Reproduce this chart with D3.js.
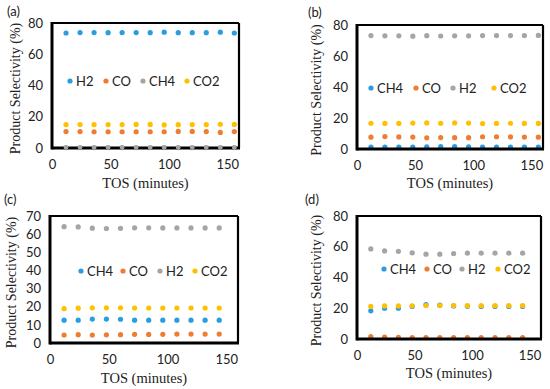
<!DOCTYPE html>
<html><head><meta charset="utf-8">
<script src="https://cdn.jsdelivr.net/npm/d3@7/dist/d3.min.js"></script>
<style>body{margin:0;background:#fff}</style>
</head><body>
<svg id="c" width="550" height="389"></svg>
<script>
// ---- DATA ----
const tosA = [12,24,36,48,60,72,84,96,108,120,132,144,156];
const tosC = [12,24,36,48,60,72,84,96,108,120,132,144];

const aH2  = [73.6,73.9,73.9,73.8,73.9,73.9,73.8,74.1,73.8,73.8,73.8,74.1,73.6];
const aCO  = [10.5,10.5,10.4,10.4,10.4,10.4,10.4,10.4,10.6,10.6,10.5,10.0,10.5];
const aCH4 = [0.3,0.3,0.3,0.3,0.3,0.3,0.3,0.3,0.3,0.3,0.3,0.3,0.3];
const aCO2 = [15.0,15.0,15.0,15.0,15.0,15.1,15.1,14.8,14.9,15.0,15.0,15.2,15.1];

const bCH4 = [1.3,1.3,1.3,1.3,1.4,1.6,1.5,1.4,1.2,1.3,1.3,1.3,1.3];
const bCO  = [7.6,8.0,7.8,7.7,7.2,7.4,7.3,7.3,7.9,7.9,7.8,7.7,7.6];
const bH2  = [73.2,73.0,73.0,72.8,73.1,72.9,73.0,73.0,73.2,73.2,73.2,73.2,73.3];
const bCO2 = [16.6,16.5,16.5,16.7,16.8,16.6,16.8,16.7,16.4,16.5,16.6,16.5,16.5];

const cCH4 = [12.6,12.6,13.2,13.2,13.1,12.6,12.6,12.6,12.6,12.6,12.6,12.6];
const cCO  = [4.4,4.6,4.4,4.5,4.6,4.8,4.7,4.8,4.9,4.9,4.9,4.9];
const cH2  = [64.1,64.0,63.3,63.1,63.2,63.5,63.5,63.4,63.4,63.4,63.4,63.4];
const cCO2 = [18.9,19.2,19.4,19.4,19.4,19.3,19.3,19.3,19.3,19.3,19.3,19.3];

const dCH4 = [18.3,20.0,20.0,21.2,22.3,22.0,21.5,21.3,21.2,21.2,21.2,21.2];
const dCO  = [1.5,1.2,1.1,0.9,0.9,0.9,0.9,0.9,0.9,0.9,0.9,0.9];
const dH2  = [58.6,57.3,57.0,56.0,55.2,55.2,55.5,55.8,55.8,55.8,55.8,55.8];
const dCO2 = [21.2,21.5,21.5,21.6,21.8,21.8,21.8,21.7,21.7,21.7,21.7,21.7];

const xTicks = [0,50,100,150];
const yTicks80 = [0,20,40,60,80];
const yTicks70 = [0,10,20,30,40,50,60,70];

const C_BLUE = "#2a9de2", C_ORANGE = "#ee7d31", C_GRAY = "#a5a5a5", C_YELLOW = "#ffc000";

// ---- DRAW ----
const svg = d3.select("#c");

function panel(cfg) {
  const g = svg.append("g");
  const x = d3.scaleLinear().domain([0,160]).range([cfg.l, cfg.r]);
  const y = d3.scaleLinear().domain([0, cfg.ymax]).range([cfg.b, cfg.t]);

  // series
  cfg.series.forEach(s => {
    g.append("g").selectAll("circle").data(s.v).join("circle")
      .attr("cx", (d,i) => x(cfg.tos[i])).attr("cy", d => y(d))
      .attr("r", 2.6).attr("fill", s.c);
  });

  // frame
  const sw = 2.2;
  g.append("line").attr("x1", cfg.l).attr("x2", cfg.r).attr("y1", cfg.t).attr("y2", cfg.t).attr("stroke","#000").attr("stroke-width",sw);
  g.append("line").attr("x1", cfg.r).attr("x2", cfg.r).attr("y1", cfg.t).attr("y2", cfg.b).attr("stroke","#000").attr("stroke-width",sw);
  g.append("line").attr("x1", cfg.l).attr("x2", cfg.l).attr("y1", cfg.t-1).attr("y2", cfg.b+1.5).attr("stroke","#000").attr("stroke-width",3);
  g.append("line").attr("x1", cfg.l).attr("x2", cfg.r+1).attr("y1", cfg.b).attr("y2", cfg.b).attr("stroke","#000").attr("stroke-width",3);

  // redraw series near baseline on top? (CH4 in (a) sits on axis)
  if (cfg.onTop) {
    const s = cfg.series[cfg.onTop];
    g.append("g").selectAll("circle").data(s.v).join("circle")
      .attr("cx", (d,i) => x(cfg.tos[i])).attr("cy", d => y(d))
      .attr("r", 2.4).attr("fill", s.c);
  }

  // y ticks
  const ya = d3.axisLeft(y).tickValues(cfg.yticks).tickSize(0).tickPadding(9);
  const yg = g.append("g").attr("transform", `translate(${cfg.l},0)`).call(ya);
  yg.select(".domain").remove();
  yg.selectAll("text").attr("font-family","Lato, 'Open Sans', sans-serif").attr("font-size", 13).attr("fill","#222");

  const xa = d3.axisBottom(x).tickValues(xTicks).tickSize(0).tickPadding(12);
  const xg = g.append("g").attr("transform", `translate(0,${cfg.b})`).call(xa);
  xg.select(".domain").remove();
  xg.selectAll("text").attr("font-family","Lato, 'Open Sans', sans-serif").attr("font-size", 13).attr("fill","#222");

  // axis titles
  g.append("text").attr("x", (cfg.l + x(160)) / 2).attr("y", cfg.xty)
    .attr("text-anchor","middle").attr("font-family","'Liberation Serif', serif").attr("font-size",14.5).attr("fill","#222")
    .text("TOS (minutes)");
  g.append("text").attr("transform", `translate(${cfg.ytx},${(cfg.t + cfg.b) / 2 + 3}) rotate(-90)`)
    .attr("text-anchor","middle").attr("font-family","'Liberation Serif', serif").attr("font-size",14).attr("fill","#222")
    .text("Product Selectivity (%)");

  // panel label
  g.append("text").attr("x", cfg.px).attr("y", cfg.py).attr("font-family","Lato, 'Open Sans', sans-serif").attr("font-size",13).attr("fill","#222").text(cfg.label);

  // legend
  cfg.series.forEach((s, i) => {
    const lx = cfg.legX[i];
    g.append("circle").attr("cx", lx).attr("cy", cfg.legY).attr("r", 2.6).attr("fill", s.c);
    g.append("text").attr("x", lx + 6).attr("y", cfg.legY + 4.5)
      .attr("font-family","Lato, 'Open Sans', sans-serif").attr("font-size",13).attr("fill","#222").text(s.n);
  });
}

panel({ label:"(a)", px:7, py:16, l:52, r:239, t:23, b:148, ymax:80, yticks:yTicks80, tos:tosA,
  xty:188, ytx:20, legY:81, legX:[70,106,143,187], onTop:2,
  series:[{n:"H2",v:aH2,c:C_BLUE},{n:"CO",v:aCO,c:C_ORANGE},{n:"CH4",v:aCH4,c:C_GRAY},{n:"CO2",v:aCO2,c:C_YELLOW}] });

panel({ label:"(b)", px:308, py:17, l:357, r:543, t:25, b:149, ymax:80, yticks:yTicks80, tos:tosA,
  xty:188, ytx:321, legY:88, legX:[371,416,453,494],
  series:[{n:"CH4",v:bCH4,c:C_BLUE},{n:"CO",v:bCO,c:C_ORANGE},{n:"H2",v:bH2,c:C_GRAY},{n:"CO2",v:bCO2,c:C_YELLOW}] });

panel({ label:"(c)", px:4, py:204, l:50, r:238, t:216, b:343, ymax:70, yticks:yTicks70, tos:tosC,
  xty:383, ytx:16, legY:271, legX:[81,123,160,195],
  series:[{n:"CH4",v:cCH4,c:C_BLUE},{n:"CO",v:cCO,c:C_ORANGE},{n:"H2",v:cH2,c:C_GRAY},{n:"CO2",v:cCO2,c:C_YELLOW}] });

panel({ label:"(d)", px:305, py:204, l:357, r:541, t:216, b:339, ymax:80, yticks:yTicks80, tos:tosC,
  xty:378, ytx:321, legY:269, legX:[384,427,462,498],
  series:[{n:"CH4",v:dCH4,c:C_BLUE},{n:"CO",v:dCO,c:C_ORANGE},{n:"H2",v:dH2,c:C_GRAY},{n:"CO2",v:dCO2,c:C_YELLOW}] });
</script>
</body></html>
